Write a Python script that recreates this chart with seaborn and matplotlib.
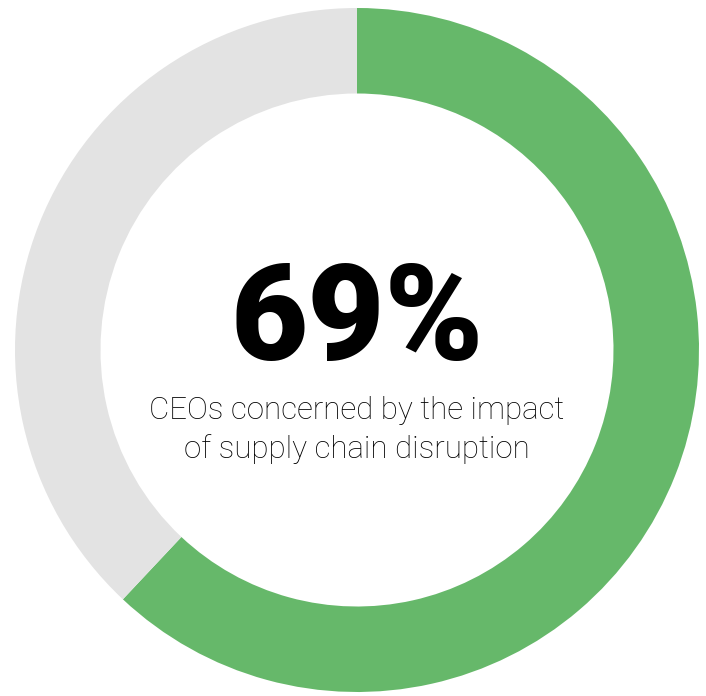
import matplotlib.pyplot as plt
import seaborn as sns

# values as drawn in the ring (green share / rest)
labels = ['Concerned', 'Other']
shares = [62, 38]
colors = ['#66b86a', '#e3e3e3']

headline = '69%'
caption = ['CEOs concerned by the impact', 'of supply chain disruption']

sns.set_theme(style='white')

fig = plt.figure(figsize=(7.06, 6.96), dpi=100)
ax = fig.add_axes([0, 0, 1, 1])

ax.pie(shares, colors=colors, startangle=90, counterclock=False,
       radius=1.0, wedgeprops=dict(width=0.25, linewidth=0))

# place ring centre at (357, 350) px with radius 342 px
ax.set_xlim(-357 / 342, (706 - 357) / 342)
ax.set_ylim(-(696 - 350) / 342, 350 / 342)
ax.axis('off')

ax.text(0, -10 / 342, headline, ha='center', va='baseline',
        fontsize=96, fontweight=900, family=['Roboto', 'DejaVu Sans'],
        color='black')
ax.text(0, -69 / 342, caption[0], ha='center', va='baseline',
        fontsize=22.5, fontweight='light', family=['Roboto', 'DejaVu Sans'],
        color='black')
ax.text(0, -108 / 342, caption[1], ha='center', va='baseline',
        fontsize=22.5, fontweight='light', family=['Roboto', 'DejaVu Sans'],
        color='black')

plt.savefig('out.png', dpi=100)
plt.close()
